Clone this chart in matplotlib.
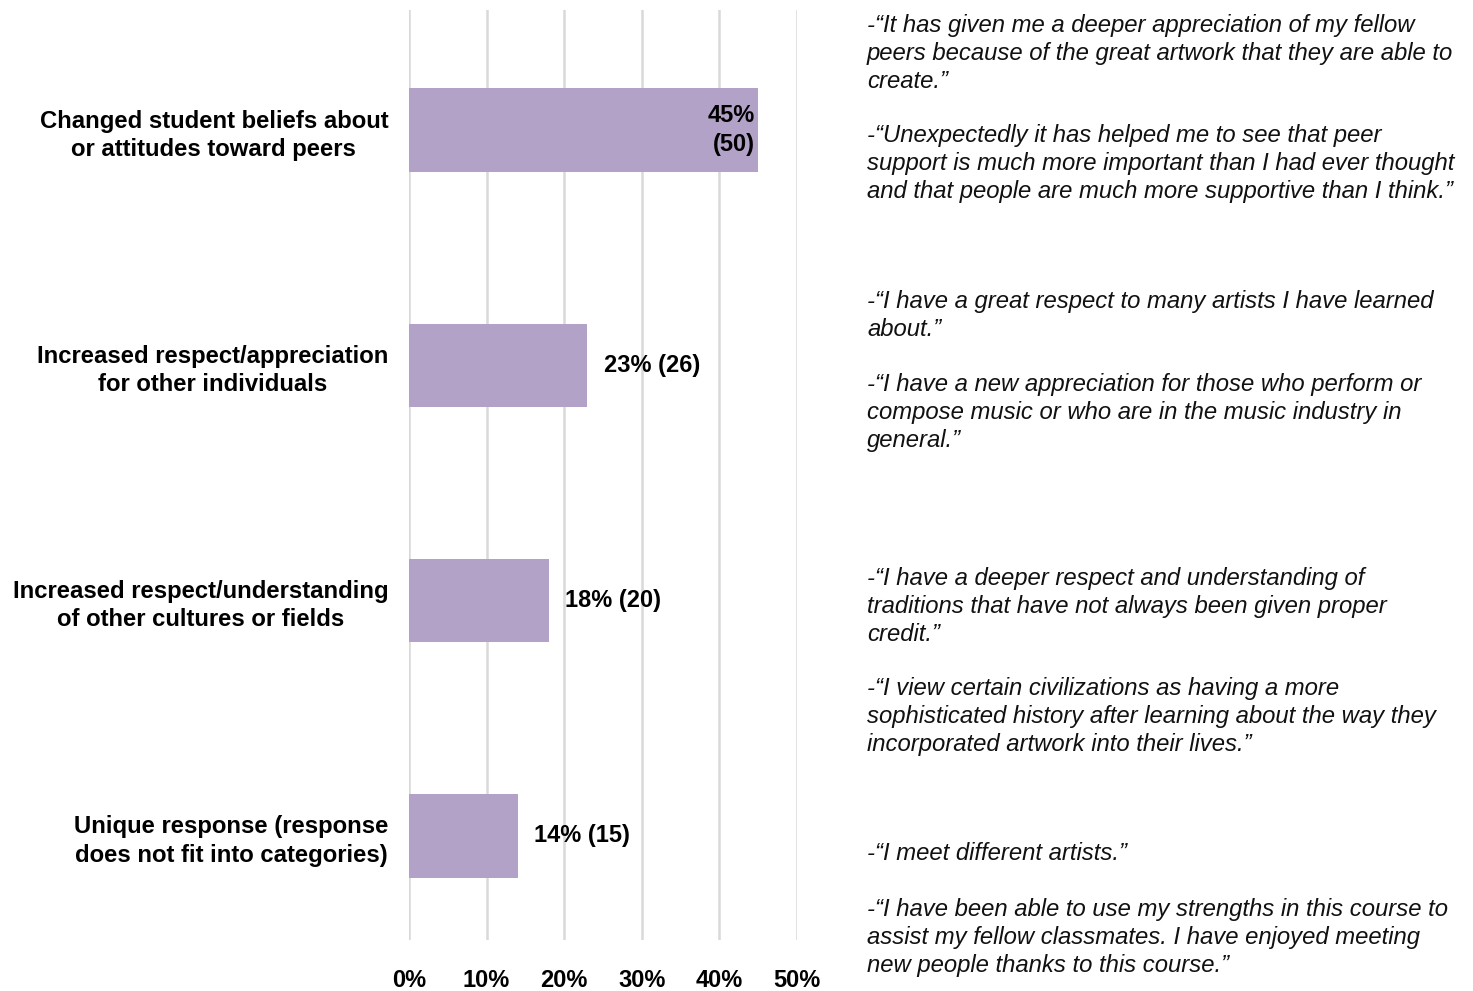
import matplotlib
matplotlib.use("Agg")
import matplotlib.pyplot as plt

plt.rcParams["font.family"] = ["Liberation Sans", "DejaVu Sans"]

# data
categories = [
    "Changed student beliefs about\nor attitudes toward peers",
    "Increased respect/appreciation\nfor other individuals",
    "Increased respect/understanding\nof other cultures or fields",
    "Unique response (response\ndoes not fit into categories)",
]
shares = [0.45, 0.23, 0.18, 0.14]
counts = [50, 26, 20, 15]
ticks = [0, 0.1, 0.2, 0.3, 0.4, 0.5]
tick_labels = ["0%", "10%", "20%", "30%", "40%", "50%"]

quotes = [
    "-\u201cIt has given me a deeper appreciation of my fellow\npeers because of the great artwork that they are able to\ncreate.\u201d",
    "-\u201cUnexpectedly it has helped me to see that peer\nsupport is much more important than I had ever thought\nand that people are much more supportive than I think.\u201d",
    "-\u201cI have a great respect to many artists I have learned\nabout.\u201d",
    "-\u201cI have a new appreciation for those who perform or\ncompose music or who are in the music industry in\ngeneral.\u201d",
    "-\u201cI have a deeper respect and understanding of\ntraditions that have not always been given proper\ncredit.\u201d",
    "-\u201cI view certain civilizations as having a more\nsophisticated history after learning about the way they\nincorporated artwork into their lives.\u201d",
    "-\u201cI meet different artists.\u201d",
    "-\u201cI have been able to use my strengths in this course to\nassist my fellow classmates. I have enjoyed meeting\nnew people thanks to this course.\u201d",
]
quote_tops = [14, 124, 290, 373, 567, 677, 842, 898]  # pixel y of first line top

W, H = 1473, 991
fig = plt.figure(figsize=(W / 100, H / 100), dpi=100)
ax = fig.add_axes([409 / W, 1 - 940 / H, (797 - 409) / W, (940 - 10) / H])

y = list(range(len(categories)))
bars = ax.barh(y, shares, height=0.353, color="#B3A2C7", zorder=3)

ax.set_xlim(0, 0.5)
ax.set_ylim(3.442, -0.51)
ax.set_xticks(ticks)
ax.set_xticklabels(tick_labels, fontsize=17, fontweight="bold")
ax.set_yticks(y)
ax.set_yticklabels(categories, fontsize=17.2, fontweight="bold")
for t in ax.get_yticklabels():
    t.set_multialignment("center")
    t.set_linespacing(1.28)
    t.set_y(t.get_position()[1])
ax.tick_params(axis="y", length=0, pad=15)
ax.tick_params(axis="x", length=0, pad=21)
ax.grid(axis="x", color="#D9D9D9", linewidth=1.8, zorder=0)
for s in ax.spines.values():
    s.set_visible(False)

for i, (v, n) in enumerate(zip(shares, counts)):
    if i == 0:
        ax.text(v - 0.004, i, f"{v:.0%}\n({n})", ha="right", va="center",
                fontsize=17, fontweight="bold", multialignment="right",
                linespacing=1.28, zorder=4)
    else:
        ax.text(v + 0.021, i, f"{v:.0%} ({n})", ha="left", va="center",
                fontsize=17, fontweight="bold", zorder=4)

for q, top in zip(quotes, quote_tops):
    fig.text(867 / W, 1 - top / H, q, ha="left", va="top", fontsize=17.2,
             style="italic", linespacing=1.28, color="#111111")

fig.savefig("out.png", dpi=100)
